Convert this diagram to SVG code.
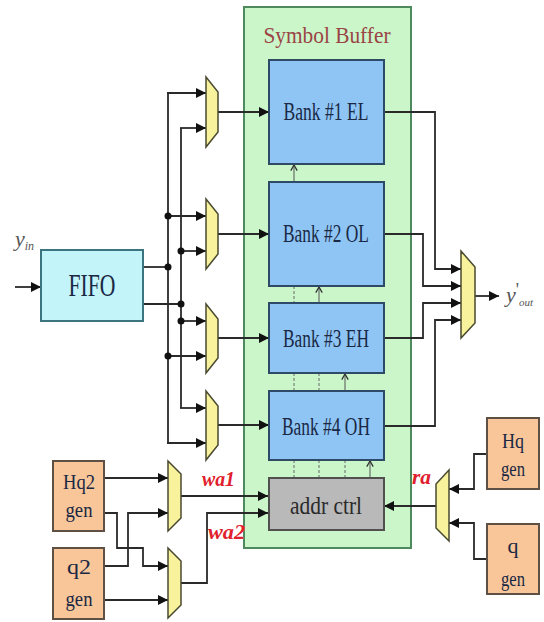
<svg xmlns="http://www.w3.org/2000/svg" width="544" height="622" viewBox="0 0 544 622">
<style>
.bank{fill:#8ec5f5;stroke:#2e4a66;stroke-width:2}
.gen{fill:#f8c698;stroke:#5e5044;stroke-width:2}
.mux{fill:#f8f29c;stroke:#4a4a30;stroke-width:1.5}
.w{fill:none;stroke:#2a2a2a;stroke-width:1.8}
.d{fill:none;stroke:#666;stroke-width:1;stroke-dasharray:3 2}
.c{fill:none;stroke:#555;stroke-width:1}
.t{font-family:"Liberation Serif","Times New Roman",serif;fill:#1a2844;text-anchor:middle}
.lab{font-family:"Liberation Serif","Times New Roman",serif;font-weight:bold;font-style:italic;fill:#e0202c}
.sig{font-family:"Liberation Serif","Times New Roman",serif;font-style:italic;fill:#555}
</style>
<defs>
<marker id="ah" viewBox="0 0 10 10" refX="10" refY="5" markerWidth="11" markerHeight="10" markerUnits="userSpaceOnUse" orient="auto"><path d="M0,0 L10,5 L0,10 z" fill="#111"/></marker>
<marker id="ch" viewBox="0 0 10 10" refX="9" refY="5" markerWidth="8" markerHeight="9" markerUnits="userSpaceOnUse" orient="auto"><path d="M2,1 L9,5 L2,9" fill="none" stroke="#333" stroke-width="1.6"/></marker>
</defs>

<g id="symbol-buffer">
<rect x="244" y="7" width="167" height="541" fill="#caf6ca" stroke="#4f8a5e" stroke-width="2"/>
<text x="327" y="43" font-family="Liberation Serif, Times New Roman, serif" font-size="23" fill="#9a4444" text-anchor="middle" textLength="127" lengthAdjust="spacingAndGlyphs">Symbol Buffer</text>
</g>

<g id="connectors">
<line class="w" x1="15" y1="287" x2="41" y2="287" marker-end="url(#ah)"/>
<polyline class="w" points="143,267 168,267"/>
<polyline class="w" points="143,304 181,304"/>
<line class="w" x1="168" y1="93" x2="168" y2="443"/>
<line class="w" x1="181" y1="128" x2="181" y2="408"/>
<line class="w" x1="167" y1="93" x2="206" y2="93" marker-end="url(#ah)"/>
<line class="w" x1="180" y1="128" x2="206" y2="128" marker-end="url(#ah)"/>
<line class="w" x1="168" y1="216" x2="206" y2="216" marker-end="url(#ah)"/>
<line class="w" x1="181" y1="251" x2="206" y2="251" marker-end="url(#ah)"/>
<line class="w" x1="181" y1="321" x2="206" y2="321" marker-end="url(#ah)"/>
<line class="w" x1="168" y1="356" x2="206" y2="356" marker-end="url(#ah)"/>
<line class="w" x1="180" y1="408" x2="206" y2="408" marker-end="url(#ah)"/>
<line class="w" x1="167" y1="443" x2="206" y2="443" marker-end="url(#ah)"/>
<line class="w" x1="218" y1="112" x2="269" y2="112" marker-end="url(#ah)"/>
<line class="w" x1="218" y1="234" x2="269" y2="234" marker-end="url(#ah)"/>
<line class="w" x1="218" y1="338" x2="269" y2="338" marker-end="url(#ah)"/>
<line class="w" x1="218" y1="425" x2="269" y2="425" marker-end="url(#ah)"/>
<g fill="#111">
<circle cx="168" cy="216" r="3.5"/>
<circle cx="181" cy="251" r="3.5"/>
<circle cx="168" cy="267" r="3.5"/>
<circle cx="181" cy="304" r="3.5"/>
<circle cx="181" cy="321" r="3.5"/>
<circle cx="168" cy="356" r="3.5"/>
</g>
<polyline class="w" points="384,112 435,112 435,269 461,269" marker-end="url(#ah)"/>
<polyline class="w" points="384,234 423,234 423,286 461,286" marker-end="url(#ah)"/>
<polyline class="w" points="384,338 423,338 423,303 461,303" marker-end="url(#ah)"/>
<polyline class="w" points="384,426 435,426 435,320 461,320" marker-end="url(#ah)"/>
<line class="w" x1="475" y1="296" x2="499" y2="296" marker-end="url(#ah)"/>
<line class="c" x1="294" y1="182" x2="294" y2="165" marker-end="url(#ch)"/>
<line class="d" x1="294" y1="286" x2="294" y2="303"/>
<line class="c" x1="319" y1="303" x2="319" y2="287" marker-end="url(#ch)"/>
<line class="d" x1="294" y1="373" x2="294" y2="391"/>
<line class="d" x1="319" y1="373" x2="319" y2="391"/>
<line class="c" x1="345" y1="391" x2="345" y2="374" marker-end="url(#ch)"/>
<line class="d" x1="294" y1="460" x2="294" y2="478"/>
<line class="d" x1="319" y1="460" x2="319" y2="478"/>
<line class="d" x1="345" y1="460" x2="345" y2="478"/>
<line class="c" x1="370" y1="478" x2="370" y2="461" marker-end="url(#ch)"/>
<line class="w" x1="104" y1="478" x2="168" y2="478" marker-end="url(#ah)"/>
<polyline class="w" points="104,513 117,513 117,548 143,548 143,566 168,566" marker-end="url(#ah)"/>
<polyline class="w" points="104,566 128,566 128,513 168,513" marker-end="url(#ah)"/>
<line class="w" x1="104" y1="600" x2="168" y2="600" marker-end="url(#ah)"/>
<line class="w" x1="181" y1="496" x2="268" y2="496" marker-end="url(#ah)"/>
<polyline class="w" points="181,583 207,583 207,513 268,513" marker-end="url(#ah)"/>
<polyline class="w" points="487,454 474,454 474,489 449,489" marker-end="url(#ah)"/>
<polyline class="w" points="487,559 474,559 474,523 449,523" marker-end="url(#ah)"/>
<line class="w" x1="436" y1="506" x2="384" y2="506" marker-end="url(#ah)"/>
</g>

<g id="fifo">
<rect x="41" y="250" width="102" height="71" fill="#c2f4fa" stroke="#3c7480" stroke-width="2"/>
<text class="t" x="92" y="296" font-size="31" textLength="47" lengthAdjust="spacingAndGlyphs">FIFO</text>
</g>

<g id="mux1"><polygon class="mux" points="206,77 218,92 218,132 206,147"/></g>
<g id="mux2"><polygon class="mux" points="206,199 218,214 218,254 206,269"/></g>
<g id="mux3"><polygon class="mux" points="206,304 218,319 218,358 206,373"/></g>
<g id="mux4"><polygon class="mux" points="206,391 218,406 218,445 206,460"/></g>
<g id="mux-out"><polygon class="mux" points="461,251 475,267 475,323 461,338"/></g>
<g id="mux-wa1"><polygon class="mux" points="168,461 181,474 181,518 168,531"/></g>
<g id="mux-wa2"><polygon class="mux" points="168,548 181,561 181,605 168,618"/></g>
<g id="mux-ra"><polygon class="mux" points="449,470 436,484 436,528 449,541"/></g>

<g id="bank1">
<rect class="bank" x="269" y="60" width="115" height="104"/>
<text class="t" x="326" y="120" font-size="25" textLength="85" lengthAdjust="spacingAndGlyphs">Bank #1 EL</text>
</g>
<g id="bank2">
<rect class="bank" x="269" y="182" width="115" height="104"/>
<text class="t" x="326" y="242" font-size="25" textLength="86" lengthAdjust="spacingAndGlyphs">Bank #2 OL</text>
</g>
<g id="bank3">
<rect class="bank" x="269" y="303" width="115" height="70"/>
<text class="t" x="326" y="347" font-size="25" textLength="86" lengthAdjust="spacingAndGlyphs">Bank #3 EH</text>
</g>
<g id="bank4">
<rect class="bank" x="269" y="391" width="115" height="69"/>
<text class="t" x="326" y="435" font-size="25" textLength="88" lengthAdjust="spacingAndGlyphs">Bank #4 OH</text>
</g>
<g id="addr-ctrl">
<rect x="269" y="478" width="115" height="52" fill="#b9b9b9" stroke="#505050" stroke-width="2"/>
<text x="326" y="514" font-family="Liberation Serif, Times New Roman, serif" font-size="25" fill="#2a2a2a" text-anchor="middle" textLength="72" lengthAdjust="spacingAndGlyphs">addr ctrl</text>
</g>

<g id="hq2-gen">
<rect class="gen" x="53" y="461" width="51" height="70"/>
<text class="t" x="79" y="489" font-size="22" textLength="32" lengthAdjust="spacingAndGlyphs">Hq2</text>
<text class="t" x="79" y="517" font-size="22" textLength="27" lengthAdjust="spacingAndGlyphs">gen</text>
</g>
<g id="q2-gen">
<rect class="gen" x="53" y="548" width="51" height="71"/>
<text class="t" x="79" y="574" font-size="22" textLength="24" lengthAdjust="spacingAndGlyphs">q2</text>
<text class="t" x="79" y="606" font-size="22" textLength="27" lengthAdjust="spacingAndGlyphs">gen</text>
</g>
<g id="hq-gen">
<rect class="gen" x="487" y="418" width="52" height="71"/>
<text class="t" x="513" y="448" font-size="22" textLength="22" lengthAdjust="spacingAndGlyphs">Hq</text>
<text class="t" x="513" y="476" font-size="22" textLength="24" lengthAdjust="spacingAndGlyphs">gen</text>
</g>
<g id="q-gen">
<rect class="gen" x="487" y="524" width="52" height="70"/>
<text class="t" x="513" y="553" font-size="22">q</text>
<text class="t" x="513" y="586" font-size="22" textLength="24" lengthAdjust="spacingAndGlyphs">gen</text>
</g>

<g id="labels">
<text class="lab" x="202" y="486" font-size="22" textLength="33" lengthAdjust="spacingAndGlyphs">wa1</text>
<text class="lab" x="208" y="539" font-size="22" textLength="37" lengthAdjust="spacingAndGlyphs">wa2</text>
<text class="lab" x="412" y="484" font-size="22" textLength="19" lengthAdjust="spacingAndGlyphs">ra</text>
<text class="sig" x="15" y="246" font-size="22">y<tspan font-size="12" dy="4">in</tspan></text>
<text class="sig" x="506" y="302" font-size="22">y<tspan font-size="18" dy="-6" font-style="normal">'</tspan><tspan font-size="11" dy="10">out</tspan></text>
</g>
</svg>
